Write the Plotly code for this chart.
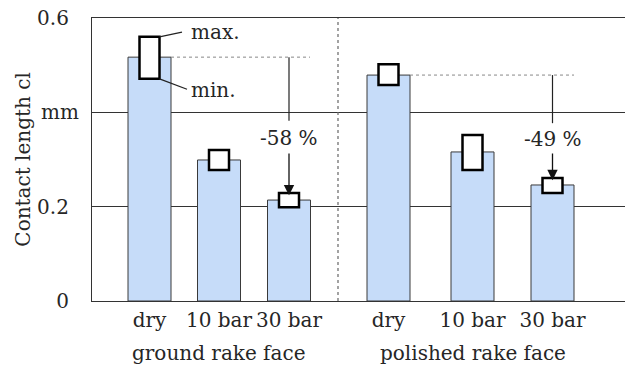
import plotly.graph_objects as go

# ---- data ----
categories = ["dry", "10 bar", "30 bar", "dry", "10 bar", "30 bar"]
groups = ["ground rake face", "polished rake face"]
mean_vals = [0.517, 0.299, 0.214, 0.479, 0.316, 0.246]
max_vals = [0.560, 0.320, 0.229, 0.502, 0.352, 0.261]
min_vals = [0.471, 0.278, 0.199, 0.458, 0.278, 0.229]
reductions = ["-58 %", "-49 %"]
y_ticks = [0, 0.2, 0.4, 0.6]
y_ticktext = ["0", "0.2", "", "0.6"]
unit_label = "mm"
unit_value = 0.4
y_title = "Contact length cl"

# ---- layout positions (x axis units) ----
xpos = [57.5, 127, 197, 296.5, 380.5, 460.5]
bar_w = 43
box_w = 20
sep_x = 246
FONT = "DejaVu Serif"
TXT = "#262626"

fig = go.Figure()
fig.add_trace(go.Bar(
    x=xpos, y=mean_vals, width=bar_w,
    marker=dict(color="#c6dcf9", line=dict(color="#3a3a3a", width=1)),
    hoverinfo="skip"))
fig.add_trace(go.Bar(
    x=xpos, y=[a - b for a, b in zip(max_vals, min_vals)], base=min_vals,
    width=box_w,
    marker=dict(color="white", line=dict(color="black", width=2.5)),
    hoverinfo="skip"))

shapes = []
# separator
shapes.append(dict(type="line", xref="x", yref="y", x0=sep_x, x1=sep_x, y0=0, y1=0.6,
                   line=dict(color="#666", width=1.2, dash="dot")))

annotations = []
pairs = [(0, 2, 218, 0.382, 0.346, 0.316), (3, 5, 482, 0.377, 0.343, 0.316)]
for k, (i0, i1, xend, ltop, ytxt, astart) in enumerate(pairs):
    yref_val = mean_vals[i0]
    shapes.append(dict(type="line", xref="x", yref="y",
                       x0=xpos[i0] + bar_w / 2, x1=xend, y0=yref_val, y1=yref_val,
                       line=dict(color="#888", width=1, dash="dot")))
    shapes.append(dict(type="line", xref="x", yref="y",
                       x0=xpos[i1], x1=xpos[i1], y0=yref_val, y1=ltop,
                       line=dict(color="#222", width=1.2)))
    annotations.append(dict(x=xpos[i1], y=ytxt, xref="x", yref="y", text=reductions[k],
                            showarrow=False, font=dict(family=FONT, size=20, color=TXT)))
    annotations.append(dict(x=xpos[i1], y=max_vals[i1] - 0.005, xref="x", yref="y",
                            ax=xpos[i1], ay=astart, axref="x", ayref="y", text="",
                            showarrow=True, arrowhead=2, arrowsize=1.6, arrowwidth=1.3,
                            arrowcolor="#111"))

# max./min. leaders on first box
shapes.append(dict(type="line", xref="x", yref="y", x0=xpos[0] + box_w / 2, x1=90,
                   y0=max_vals[0], y1=0.570, line=dict(color="#222", width=1.2)))
shapes.append(dict(type="line", xref="x", yref="y", x0=xpos[0] + box_w / 2, x1=95,
                   y0=min_vals[0], y1=0.449, line=dict(color="#222", width=1.2)))
annotations.append(dict(x=97, y=0.570, xref="x", yref="y", text="max.", xanchor="left",
                        showarrow=False, font=dict(family=FONT, size=20, color=TXT)))
annotations.append(dict(x=97, y=0.447, xref="x", yref="y", text="min.", xanchor="left",
                        showarrow=False, font=dict(family=FONT, size=20, color=TXT)))

# group labels (below axis, paper coords)
for g, xc in zip(groups, [xpos[1], xpos[4]]):
    annotations.append(dict(x=xc, y=-0.185, xref="x", yref="paper", text=g,
                            yanchor="middle", showarrow=False,
                            font=dict(family=FONT, size=20, color=TXT)))

# unit label on y axis
annotations.append(dict(x=-0.06, y=unit_value, xref="paper", yref="y", text=unit_label,
                        xanchor="center", yanchor="middle", showarrow=False,
                        font=dict(family=FONT, size=20, color=TXT)))
# y axis title
annotations.append(dict(x=-0.131, y=0.5, xref="paper", yref="paper", text=y_title,
                        textangle=-90, xanchor="center", yanchor="middle", showarrow=False,
                        font=dict(family=FONT, size=20, color=TXT)))

fig.update_layout(
    width=625, height=369,
    margin=dict(l=92, r=0, t=18, b=68),
    paper_bgcolor="white", plot_bgcolor="white",
    showlegend=False, barmode="overlay",
    font=dict(family=FONT, size=20, color=TXT),
    shapes=shapes, annotations=annotations,
    xaxis=dict(range=[0, 533], tickvals=xpos, ticktext=categories,
               showline=True, mirror=True, linecolor="#333", linewidth=1.2,
               showgrid=False, zeroline=False, ticks="", ticklabelstandoff=1,
               tickfont=dict(family=FONT, size=20, color=TXT)),
    yaxis=dict(range=[0, 0.6], tickvals=y_ticks, ticktext=y_ticktext,
               showline=True, linecolor="#333", linewidth=1.2,
               showgrid=True, gridcolor="#333", gridwidth=1.2, zeroline=False,
               ticks="", ticklabelstandoff=18,
               tickfont=dict(family=FONT, size=20, color=TXT)),
)

fig.write_html("out.html")
